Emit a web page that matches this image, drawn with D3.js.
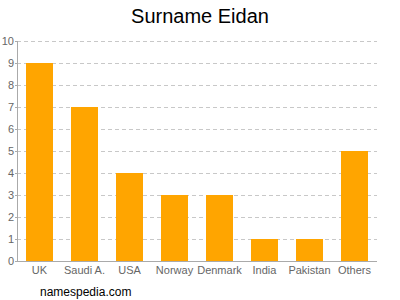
<!DOCTYPE html>
<html><head><meta charset="utf-8">
<script src="https://cdn.jsdelivr.net/npm/d3@7"></script>
<style>body{margin:0;background:#fff}svg{display:block}</style>
</head><body>
<svg id="c" width="400" height="300"></svg>
<script>
const categories = ["UK","Saudi A.","USA","Norway","Denmark","India","Pakistan","Others"];
const values = [9,7,4,3,3,1,1,5];
const yTicks = [0,1,2,3,4,5,6,7,8,9,10];

const svg = d3.select("#c");
const m = {l:17, r:377, t:41, b:261};
const x = d3.scaleBand().domain(categories).range([m.l, m.r]).paddingInner(0.4).paddingOuter(0.2);
const y = d3.scaleLinear().domain([0,10]).range([m.b, m.t]);

svg.append("text").attr("x",200).attr("y",23).attr("text-anchor","middle")
  .attr("font-family","Liberation Sans, Arial, sans-serif").attr("font-size",20).attr("fill","#000").text("Surname Eidan");

// grid
svg.append("g").selectAll("line").data(yTicks.filter(d=>d>0)).join("line")
  .attr("x1",m.l).attr("x2",m.r).attr("y1",d=>Math.round(y(d))+0.5).attr("y2",d=>Math.round(y(d))+0.5)
  .attr("stroke","#c8c8c8").attr("stroke-dasharray","4,3");

// bars
svg.append("g").selectAll("rect").data(values).join("rect")
  .attr("x",(d,i)=>x(categories[i])).attr("width",x.bandwidth())
  .attr("y",d=>y(d)).attr("height",d=>y(0)-y(d)).attr("fill","#ffa500");

// axes lines
svg.append("line").attr("x1",m.l+0.5).attr("x2",m.l+0.5).attr("y1",m.t).attr("y2",m.b).attr("stroke","#aaa");
svg.append("line").attr("x1",m.l).attr("x2",m.r).attr("y1",m.b+0.5).attr("y2",m.b+0.5).attr("stroke","#aaa");

// y tick labels
svg.append("g").selectAll("text").data(yTicks).join("text")
  .attr("x",m.l-3).attr("y",d=>y(d)+4).attr("text-anchor","end")
  .attr("font-family","Liberation Sans, Arial, sans-serif").attr("font-size",11).attr("fill","#666").text(d=>d);
// y tick marks
svg.append("g").selectAll("line").data(yTicks).join("line")
  .attr("x1",m.l-2).attr("x2",m.l).attr("y1",d=>Math.round(y(d))+0.5).attr("y2",d=>Math.round(y(d))+0.5).attr("stroke","#aaa");

// x labels
svg.append("g").selectAll("text").data(categories).join("text")
  .attr("x",d=>x(d)+x.bandwidth()/2).attr("y",274).attr("text-anchor","middle")
  .attr("font-family","Liberation Sans, Arial, sans-serif").attr("font-size",11).attr("fill","#666").text(d=>d);

svg.append("text").attr("x",40).attr("y",296)
  .attr("font-family","Liberation Sans, Arial, sans-serif").attr("font-size",12).attr("fill","#000").text("namespedia.com");
</script>
</body></html>
